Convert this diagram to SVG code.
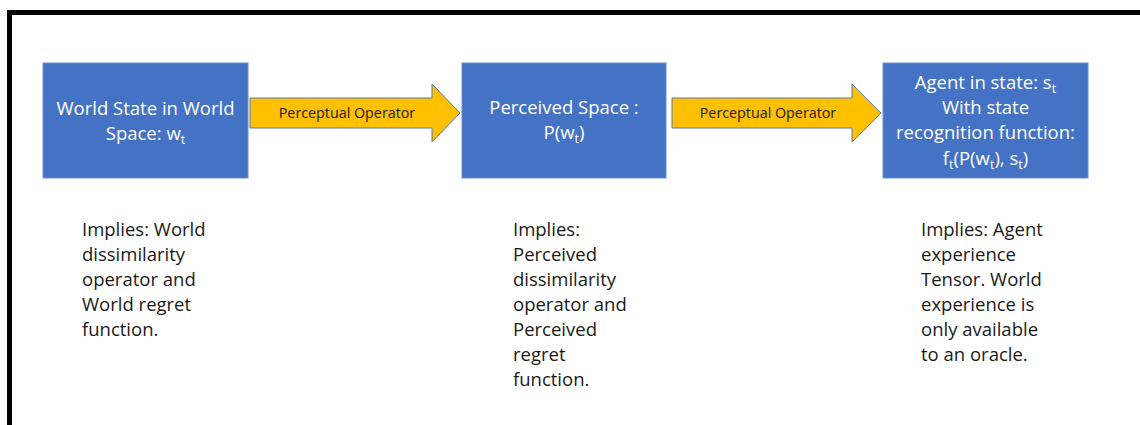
<svg xmlns="http://www.w3.org/2000/svg" width="1140" height="425" viewBox="0 0 1140 425">
<style>
.box{fill:#4472C4;stroke:#6F8FCB;stroke-width:1}
.arrow{fill:#FFC000;stroke:#5B78B0;stroke-width:1}
.bt{font-family:"Open Sans","Noto Sans",sans-serif;font-size:18.5px;fill:#FFFFFF;text-anchor:middle}
.at{font-family:"Open Sans","Noto Sans",sans-serif;font-size:14.3px;fill:#1A1A1A;text-anchor:middle}
.nt{font-family:"Open Sans","Noto Sans",sans-serif;font-size:18.5px;fill:#1A1A1A}
.sub{font-size:12.5px}
</style>
<rect width="1140" height="425" fill="#FFFFFF"/>
<rect x="9.5" y="12.5" width="1200" height="500" fill="none" stroke="#000000" stroke-width="5"/>
<g id="connectors">
<path class="arrow" d="M250,98 H432 V84 L460,113 L432,142 V128 H250 Z"/>
<text class="at" x="347" y="118">Perceptual Operator</text>
<path class="arrow" d="M672,98 H852 V84 L881,113 L852,142 V128 H672 Z"/>
<text class="at" x="768" y="118">Perceptual Operator</text>
</g>
<g id="world">
<rect class="box" x="43" y="63" width="205" height="115"/>
<text class="bt" x="145.5" y="115">World State in World</text>
<text class="bt" x="145.5" y="140">Space: w<tspan class="sub" dy="4">t</tspan></text>
</g>
<g id="perceived">
<rect class="box" x="462" y="63" width="204" height="115"/>
<text class="bt" x="564" y="114">Perceived Space :</text>
<text class="bt" x="564" y="139">P(w<tspan class="sub" dy="4">t</tspan><tspan dy="-4">)</tspan></text>
</g>
<g id="agent">
<rect class="box" x="883" y="63" width="205" height="115"/>
<text class="bt" x="985.5" y="89">Agent in state: s<tspan class="sub" dy="4">t</tspan></text>
<text class="bt" x="985.5" y="114">With state</text>
<text class="bt" x="985.5" y="139">recognition function:</text>
<text class="bt" x="985.5" y="165">f<tspan class="sub" dy="4">t</tspan><tspan dy="-4">(P(w</tspan><tspan class="sub" dy="4">t</tspan><tspan dy="-4">), s</tspan><tspan class="sub" dy="4">t</tspan><tspan dy="-4">)</tspan></text>
</g>
<g id="note-world">
<text class="nt" x="82" y="236">Implies: World</text>
<text class="nt" x="82" y="261">dissimilarity</text>
<text class="nt" x="82" y="286">operator and</text>
<text class="nt" x="82" y="311">World regret</text>
<text class="nt" x="82" y="336">function.</text>
</g>
<g id="note-perceived">
<text class="nt" x="513" y="236">Implies:</text>
<text class="nt" x="513" y="261">Perceived</text>
<text class="nt" x="513" y="286">dissimilarity</text>
<text class="nt" x="513" y="311">operator and</text>
<text class="nt" x="513" y="336">Perceived</text>
<text class="nt" x="513" y="361">regret</text>
<text class="nt" x="513" y="386">function.</text>
</g>
<g id="note-agent">
<text class="nt" x="921" y="236">Implies: Agent</text>
<text class="nt" x="921" y="261">experience</text>
<text class="nt" x="921" y="286">Tensor. World</text>
<text class="nt" x="921" y="311">experience is</text>
<text class="nt" x="921" y="336">only available</text>
<text class="nt" x="921" y="361">to an oracle.</text>
</g>
</svg>
